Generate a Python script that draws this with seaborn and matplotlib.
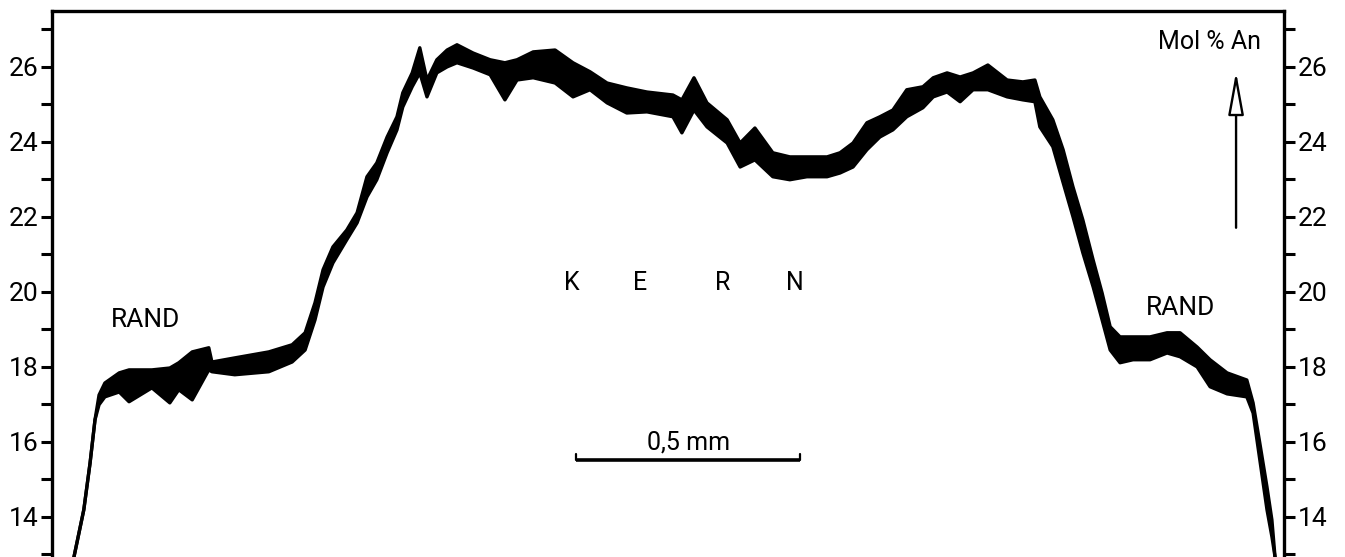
import matplotlib
matplotlib.use("Agg")
import matplotlib.pyplot as plt
import seaborn as sns
import pandas as pd
from matplotlib.ticker import MultipleLocator

# Distance along profile (mm)
dist_mm = [0.049, 0.071, 0.085, 0.096, 0.105, 0.118, 0.150, 0.172, 0.223, 0.263,
           0.283, 0.313, 0.350, 0.357, 0.408, 0.484, 0.536, 0.565, 0.587, 0.605,
           0.627, 0.658, 0.681, 0.703, 0.725, 0.748, 0.770, 0.783, 0.804, 0.821,
           0.837, 0.859, 0.882, 0.904, 0.940, 0.978, 1.011, 1.038, 1.074, 1.123,
           1.163, 1.201, 1.239, 1.283, 1.328, 1.386, 1.406, 1.433, 1.462, 1.507,
           1.536, 1.569, 1.609, 1.647, 1.685, 1.730, 1.759, 1.788, 1.819, 1.848,
           1.877, 1.908, 1.944, 1.967, 1.998, 2.027, 2.056, 2.089, 2.132, 2.167,
           2.194, 2.205, 2.234, 2.257, 2.279, 2.301, 2.324, 2.344, 2.362, 2.384,
           2.413, 2.451, 2.489, 2.518, 2.556, 2.585, 2.623, 2.667, 2.681, 2.696,
           2.712, 2.723, 2.730]

# Upper envelope of the recorded trace (Mol % An)
an_upper = [12.93, 14.19, 15.44, 16.59, 17.25, 17.57, 17.84, 17.92, 17.92, 17.97,
            18.11, 18.40, 18.51, 18.13, 18.24, 18.40, 18.59, 18.91, 19.71, 20.59,
            21.20, 21.65, 22.11, 23.07, 23.44, 24.13, 24.67, 25.31, 25.84, 26.51,
            25.65, 26.19, 26.45, 26.59, 26.37, 26.19, 26.11, 26.19, 26.40, 26.45,
            26.11, 25.87, 25.57, 25.44, 25.33, 25.25, 25.12, 25.71, 25.04, 24.59,
            23.97, 24.37, 23.71, 23.60, 23.60, 23.60, 23.71, 23.97, 24.51, 24.67,
            24.85, 25.39, 25.47, 25.71, 25.84, 25.73, 25.84, 26.05, 25.65, 25.60,
            25.65, 25.20, 24.59, 23.79, 22.80, 21.92, 20.85, 19.97, 19.07, 18.80,
            18.80, 18.80, 18.91, 18.91, 18.53, 18.19, 17.84, 17.65, 17.04, 15.97,
            14.80, 13.92, 12.93]

# Lower envelope of the recorded trace (Mol % An)
an_lower = [12.93, 14.19, 15.44, 16.59, 16.99, 17.20, 17.33, 17.07, 17.44, 17.04,
            17.39, 17.12, 17.92, 17.87, 17.79, 17.87, 18.13, 18.45, 19.25, 20.13,
            20.77, 21.39, 21.84, 22.53, 22.99, 23.71, 24.32, 24.93, 25.47, 25.84,
            25.20, 25.84, 26.00, 26.11, 25.97, 25.79, 25.12, 25.65, 25.71, 25.57,
            25.20, 25.39, 25.04, 24.77, 24.80, 24.67, 24.24, 24.85, 24.40, 23.97,
            23.33, 23.52, 23.07, 22.99, 23.07, 23.07, 23.17, 23.33, 23.79, 24.13,
            24.32, 24.67, 24.91, 25.20, 25.33, 25.07, 25.39, 25.39, 25.20, 25.12,
            25.07, 24.40, 23.87, 22.91, 22.00, 21.04, 20.13, 19.25, 18.45, 18.11,
            18.19, 18.19, 18.37, 18.27, 18.00, 17.47, 17.28, 17.20, 16.77, 15.52,
            14.19, 13.47, 12.93]

kern_letters = ["K", "E", "R", "N"]
kern_x = [1.161, 1.313, 1.498, 1.658]

df = pd.DataFrame({"dist": dist_mm, "upper": an_upper, "lower": an_lower})

sns.set_theme(style="white")
plt.rcParams["font.family"] = ["Roboto", "DejaVu Sans"]

fig = plt.figure(figsize=(13.45, 5.57), dpi=100)
ax = fig.add_axes([52 / 1345, 0.0, (1284 - 52) / 1345, 1 - 11 / 557])

ax.fill_between(df["dist"], df["lower"], df["upper"], color="black", lw=0)
sns.lineplot(data=df, x="dist", y="upper", ax=ax, color="black", lw=2.4)
sns.lineplot(data=df, x="dist", y="lower", ax=ax, color="black", lw=2.4)

ax.set_xlim(0, 2.75)
ax.set_ylim(12.93, 27.49)
ax.set_xlabel("")
ax.set_ylabel("")
ax.set_xticks([])

ax.yaxis.set_major_locator(MultipleLocator(2))
ax.yaxis.set_minor_locator(MultipleLocator(1))
ax.tick_params(axis="y", which="both", direction="out", length=8, width=2.2,
               left=True, right=True, labelleft=True, labelright=True,
               labelsize=19, pad=2, colors="black")

for s in ["left", "right", "top"]:
    ax.spines[s].set_visible(True)
    ax.spines[s].set_color("black")
    ax.spines[s].set_linewidth(2.4)
ax.spines["bottom"].set_visible(False)
ax.grid(False)

# Annotations
ax.text(0.208, 19.25, "RAND", fontsize=19, ha="center", va="center", color="black")
ax.text(2.518, 19.57, "RAND", fontsize=19, ha="center", va="center", color="black")
for ch, xx in zip(kern_letters, kern_x):
    ax.text(xx, 20.24, ch, fontsize=18, ha="center", va="center", color="black")

ax.text(1.42, 15.99, "0,5 mm", fontsize=18, ha="center", va="center", color="black")
ax.plot([1.17, 1.67], [15.52, 15.52], color="black", lw=2.6, solid_capstyle="butt")
ax.plot([1.17, 1.17], [15.52, 15.68], color="black", lw=1.6)
ax.plot([1.67, 1.67], [15.52, 15.68], color="black", lw=1.6)

ax.text(2.583, 26.67, "Mol % An", fontsize=18, ha="center", va="center", color="black")
ax.annotate("", xy=(2.643, 25.87), xytext=(2.643, 21.71),
            arrowprops=dict(arrowstyle="-|>,head_length=2.2,head_width=0.4",
                            facecolor="white", edgecolor="black", lw=1.7,
                            shrinkA=0, shrinkB=0))

fig.savefig("out.png", dpi=100, facecolor="white")
